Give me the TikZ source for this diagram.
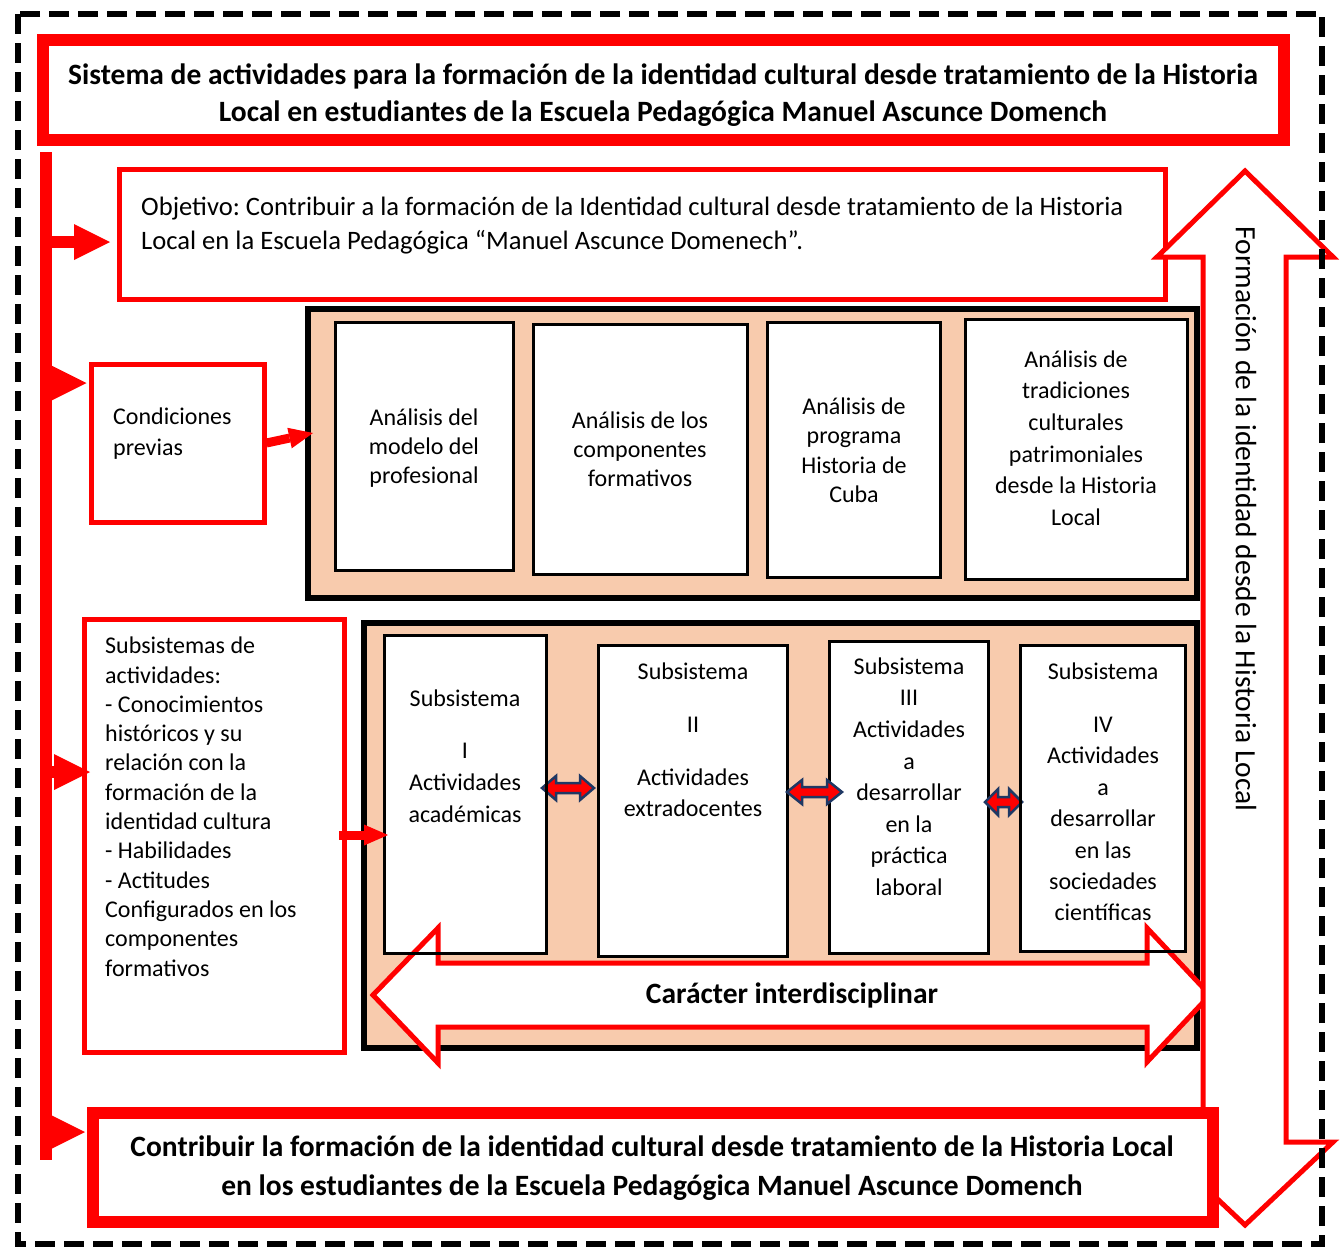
\documentclass[tikz,border=0pt]{standalone}
\usepackage{fontspec}
\setmainfont{Carlito}
\usetikzlibrary{arrows.meta}
\definecolor{peach}{HTML}{F8CBAD}
\definecolor{navy}{HTML}{1F3864}
\definecolor{myred}{HTML}{FF0000}
\frenchspacing
% small double arrow: x1 x2 y halfheadheight halfshaft headlength
\newcommand{\smalldbl}[6]{%
  \filldraw[fill=myred,draw=navy,line width=2.5pt,line join=miter]
    (#1,#3) -- ({#1+#6},{#3-#4}) -- ({#1+#6},{#3-#5}) -- ({#2-#6},{#3-#5})
    -- ({#2-#6},{#3-#4}) -- (#2,#3) -- ({#2-#6},{#3+#4}) -- ({#2-#6},{#3+#5})
    -- ({#1+#6},{#3+#5}) -- ({#1+#6},{#3+#4}) -- cycle;}
\begin{document}
\begin{tikzpicture}[x=1pt,y=-1pt,
  redthick/.style={draw=myred,line width=12pt,fill=white,inner sep=0pt},
  redthin/.style={draw=myred,line width=5pt,fill=white,inner sep=0pt},
  peachbox/.style={draw=black,line width=6pt,fill=peach,inner sep=0pt},
  wbox/.style={draw=black,line width=3pt,fill=white,inner sep=0pt},
  wline/.style={draw=black,line width=3pt,inner sep=0pt},
  txt/.style={font=\fontsize{24}{29.3}\selectfont,inner sep=0pt},
  txtb/.style={font=\fontsize{29.5}{37}\selectfont\bfseries,inner sep=0pt,align=center},
  bararrow/.style={draw=myred,line width=12pt,-{Triangle[length=36pt,width=36pt,line width=0pt]}},
  smallarrow/.style={draw=myred,line width=9pt,-{Triangle[length=24pt,width=21pt,line width=0pt]}},
  bigarrow/.style={draw=myred,line width=5pt,fill=white,line join=miter},
]
\useasboundingbox (0,0) rectangle (1340,1258);

% title
\node[redthick,minimum width=1241pt,minimum height=100pt] (title) at (663.5,90) {};
\node[txtb] (titletxt) at (663,95.5) {\strut Sistema de actividades para la formación de la identidad cultural desde tratamiento de la Historia\\ Local en estudiantes de la Escuela Pedagógica Manuel Ascunce Domench\strut};

% left bar
\coordinate (bartop) at (46,152);
\coordinate (barbot) at (46,1160);
\draw[draw=myred,line width=12pt] (bartop) -- (barbot);

% objetivo
\node[redthin,minimum width=1046pt,minimum height=130pt] (obj) at (642.5,234.5) {};
\node[txt,anchor=west,align=left,font=\fontsize{26.6}{34}\selectfont] (objtxt) at (141,226) {\strut Objetivo: Contribuir a la formación de la Identidad cultural desde tratamiento de la Historia\\ Local en la Escuela Pedagógica “Manuel Ascunce Domenech”.\strut};

% condiciones
\node[redthin,minimum width=173pt,minimum height=158pt] (cond) at (177.5,443) {};
\node[txt,anchor=west,align=left,font=\fontsize{24}{31}\selectfont] (condtxt) at (113,433.5) {\strut Condiciones\\ previas\strut};

% peach box 1
\node[peachbox,minimum width=889pt,minimum height=289pt] (p1) at (752.5,453.5) {};
\node[wbox,minimum width=178pt,minimum height=248pt] (A) at (424.5,446.5) {};
\node[wbox,minimum width=214pt,minimum height=250pt] (B) at (640.5,449.5) {};
\node[wbox,minimum width=173pt,minimum height=255pt] (C) at (854,450) {};
\node[wbox,minimum width=222pt,minimum height=260pt] (D) at (1076.5,449.5) {};
\node[txt,align=center] (Atxt) at (424,448.5) {\strut Análisis del\\ modelo del\\ profesional\strut};
\node[txt,align=center] (Btxt) at (640,451.5) {\strut Análisis de los\\ componentes\\ formativos\strut};
\node[txt,align=center] (Ctxt) at (854,452.5) {\strut Análisis de\\ programa\\ Historia de\\ Cuba\strut};
\node[txt,align=center,font=\fontsize{24}{31.6}\selectfont] (Dtxt) at (1076,440) {\strut Análisis de\\ tradiciones\\ culturales\\ patrimoniales\\ desde la Historia\\ Local\strut};

% subsistemas box
\node[redthin,minimum width=260pt,minimum height=433pt] (subs) at (214.5,836) {};
\node[txt,anchor=west,align=left] (substxt) at (105,809) {\strut Subsistemas de\\ actividades:\\ - Conocimientos\\ históricos y su\\ relación con la\\ formación de la\\ identidad cultura\\ - Habilidades\\ - Actitudes\\ Configurados en los\\ componentes\\ formativos\strut};

% peach box 2
\node[peachbox,minimum width=833pt,minimum height=425pt] (p2) at (780.5,835.5) {};
\node[wbox,minimum width=162pt,minimum height=318pt] (S1) at (465.5,794.5) {};
\node[wbox,minimum width=189pt,minimum height=311pt] (S2) at (693,801) {};
\node[wbox,minimum width=159pt,minimum height=312pt] (S3) at (909,797.5) {};
\node[wbox,minimum width=165pt,minimum height=306pt] (S4) at (1103,798.5) {};
\node[txt,align=center,font=\fontsize{24}{32}\selectfont] (S1txt) at (465,758.5) {\strut Subsistema\\[20pt] I\\ Actividades\\ académicas\strut};
\node[txt,align=center,font=\fontsize{24}{31.5}\selectfont] (S2txt) at (693,741.5) {\strut Subsistema\\[21.5pt] II\\[21.5pt] Actividades\\ extradocentes\strut};
\node[txt,align=center,font=\fontsize{24}{31.6}\selectfont] (S3txt) at (909,778.5) {\strut Subsistema\\ III\\ Actividades\\ a\\ desarrollar\\ en la\\ práctica\\ laboral\strut};
\node[txt,align=center,font=\fontsize{24}{31.4}\selectfont] (S4txt) at (1103,794) {\strut Subsistema\\[21.5pt] IV\\ Actividades\\ a\\ desarrollar\\ en las\\ sociedades\\ científicas\strut};

% small double arrows
\smalldbl{542}{594}{788}{12}{5}{14}
\smalldbl{787}{842}{792}{12}{5}{15}
\smalldbl{985}{1022}{802}{13}{5}{13}

% big horizontal double arrow
\draw[bigarrow] (373,995) -- (438,928) -- (438,963) -- (1147,963) -- (1147,928)
  -- (1210,995) -- (1147,1062) -- (1147,1027) -- (438,1027) -- (438,1063) -- cycle;
\node[txtb] (cartxt) at (792,995) {Carácter interdisciplinar};
% box borders visible over the arrow heads
\node[wline,minimum width=162pt,minimum height=318pt] at (465.5,794.5) {};
\node[wline,minimum width=165pt,minimum height=306pt] at (1103,798.5) {};

% right vertical double arrow
\draw[bigarrow] (1245,171) -- (1333,257) -- (1286,257) -- (1286,1142) -- (1333,1142)
  -- (1245,1225) -- (1157,1142) -- (1203,1142) -- (1203,257) -- (1157,257) -- cycle;
\node[inner sep=0pt,rotate=-90,font=\fontsize{29.5}{32}\selectfont] (formtxt) at (1246,519) {Formación de la identidad desde la Historia Local};

% bottom box
\node[redthick,minimum width=1120pt,minimum height=109pt] (bot) at (653,1167.5) {};
\node[txtb,font=\fontsize{29.5}{39}\selectfont\bfseries] (bottxt) at (652,1168.5) {\strut Contribuir la formación de la identidad cultural desde tratamiento de la Historia Local\\ en los estudiantes de la Escuela Pedagógica Manuel Ascunce Domench\strut};

% connectors from the bar
\draw[bararrow] (bartop |- 0,242) -- ([xshift=-7pt,yshift=-7.5pt]obj.west);
\draw[bararrow] (bartop |- 0,383) -- ([xshift=-2pt,yshift=60pt]cond.west);
\draw[bararrow] (bartop |- 0,772) -- ([xshift=8pt,yshift=64pt]subs.west);
\draw[bararrow] (bartop |- 0,1132) -- ([xshift=-2pt,yshift=35.5pt]bot.west);
\draw[smallarrow] (cond.east) -- ([xshift=8pt,yshift=20.5pt]p1.west);
\draw[smallarrow] ([xshift=-8pt,yshift=1pt]subs.east) -- ([xshift=5pt,yshift=-40.5pt]S1.west);

% outer dashed frame
\draw[black,line width=6pt,dash pattern=on 20pt off 9pt] (18,14) rectangle (1322,1244);
\end{tikzpicture}
\end{document}
